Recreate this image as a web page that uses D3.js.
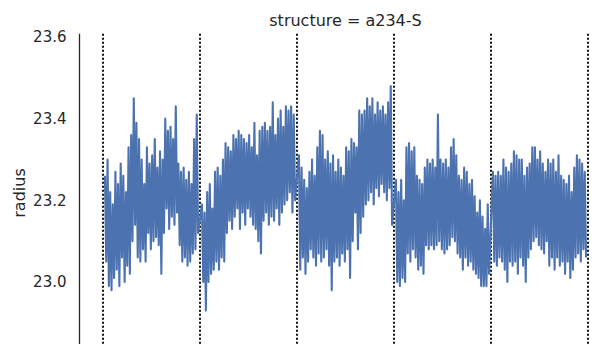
<!DOCTYPE html>
<html><head><meta charset="utf-8">
<script src="https://cdn.jsdelivr.net/npm/d3@7"></script>
<style>body{margin:0;background:#fff}svg{display:block}text{font-family:"DejaVu Sans",sans-serif;fill:#262626}</style>
</head><body><svg id="c" width="603" height="344"></svg>
<script>
const title = "structure = a234-S";
const yLabel = "radius";
const yTicks = [23.0, 23.2, 23.4, 23.6];
const boundaries = [0, 1, 2, 3, 4, 5];
const seg1 = [23.26,23.05,23.30,22.99,23.22,22.98,23.19,23.01,23.27,23.03,23.24,22.99,23.29,23.06,23.26,23.00,23.22,23.04,23.33,23.02,23.36,23.10,23.45,23.14,23.39,23.06,23.35,23.05,23.30,23.08,23.24,23.05,23.33,23.12,23.29,23.08,23.31,23.10,23.35,23.11,23.28,23.09,23.32,23.02,23.30,23.12,23.40,23.18,23.37,23.13,23.38,23.16,23.35,23.14,23.43,23.17,23.29,23.09,23.27,23.05,23.28,23.06,23.25,23.04,23.27,23.05,23.24,23.07,23.35,23.08,23.41,23.12];
const seg2 = [23.19,23.00,23.17,22.93,23.22,23.00,23.24,23.02,23.18,23.03,23.27,23.05,23.28,23.03,23.26,23.06,23.30,23.05,23.34,23.12,23.33,23.15,23.32,23.13,23.36,23.16,23.35,23.18,23.37,23.13,23.36,23.17,23.35,23.14,23.34,23.18,23.36,23.16,23.33,23.14,23.39,23.13,23.31,23.10,23.37,23.07,23.38,23.15,23.39,23.17,23.37,23.14,23.38,23.16,23.44,23.15,23.36,23.18,23.40,23.14,23.42,23.17,23.38,23.19,23.43,23.20,23.42,23.22,23.43,23.17,23.41,23.20];
const seg3 = [23.31,23.03,23.28,23.06,23.25,23.02,23.23,23.05,23.27,23.08,23.30,23.06,23.26,23.04,23.33,23.07,23.37,23.05,23.36,23.06,23.30,23.08,23.32,23.04,23.29,22.98,23.31,23.05,23.27,23.06,23.30,23.04,23.28,23.07,23.26,23.05,23.33,23.08,23.32,23.01,23.35,23.10,23.34,23.17,23.33,23.08,23.42,23.12,23.41,23.16,23.42,23.19,23.45,23.20,23.43,23.22,23.45,23.19,23.41,23.23,23.44,23.21,23.42,23.24,23.43,23.22,23.41,23.20,23.44,23.23,23.48,23.14];
const seg4 = [23.25,23.00,23.22,22.99,23.25,23.01,23.20,23.00,23.33,23.07,23.34,23.05,23.32,23.08,23.33,23.06,23.26,23.03,23.25,23.04,23.24,23.02,23.28,23.09,23.30,23.08,23.29,23.09,23.30,23.08,23.28,23.09,23.41,23.10,23.30,23.08,23.29,23.07,23.30,23.08,23.28,23.09,23.33,23.11,23.35,23.10,23.31,23.07,23.26,23.06,23.25,23.03,23.28,23.06,23.27,23.04,23.24,23.05,23.25,23.03,23.21,23.02,23.17,23.01,23.20,22.99,23.16,22.99,23.13,22.99,23.19,23.02];
const seg5 = [23.27,23.05,23.26,23.04,23.27,23.06,23.26,23.05,23.30,23.03,23.28,23.00,23.27,23.05,23.29,23.04,23.32,23.05,23.31,23.02,23.30,23.06,23.30,23.04,23.26,23.00,23.28,23.06,23.29,23.08,23.33,23.10,23.33,23.11,23.30,23.09,23.32,23.08,23.29,23.07,23.27,23.10,23.30,23.04,23.29,23.06,23.30,23.03,23.27,23.06,23.31,23.04,23.26,23.05,23.25,23.02,23.24,23.05,23.26,23.01,23.22,23.03,23.28,23.06,23.31,23.07,23.30,23.05,23.29,23.08,23.27,23.06];
const segments = [seg1, seg2, seg3, seg4, seg5];

const svg = d3.select("#c");
const x = d3.scaleLinear().domain([0, 5]).range([103, 588]);
const y = d3.scaleLinear().domain([23.0, 23.6]).range([282, 37]);
const yTop = 23.608;

const pts = [];
segments.forEach((s, k) => {
  s.forEach((v, j) => pts.push({t: k + 0.02 + j * 0.96 / (s.length - 1), v}));
});

svg.append("g").selectAll("line").data(boundaries).join("line")
  .attr("x1", d => x(d)).attr("x2", d => x(d))
  .attr("y1", y(yTop)).attr("y2", 344)
  .attr("stroke", "#111").attr("stroke-width", 2)
  .attr("stroke-dasharray", "2,2");

svg.append("path").datum(pts)
  .attr("fill", "none").attr("stroke", "#4c72b0").attr("stroke-width", 2.1)
  .attr("stroke-linejoin", "round")
  .attr("d", d3.line().x(d => x(d.t)).y(d => y(d.v)));

const ax = svg.append("g").attr("transform", "translate(79.5,0)")
  .call(d3.axisLeft(y).tickValues(yTicks).tickFormat(d3.format(".1f")).tickSize(0).tickPadding(13));
ax.select(".domain").remove();
ax.selectAll("text").attr("font-size", "15px").attr("font-family", "DejaVu Sans").attr("fill", "#262626");
svg.append("line").attr("x1", 79.5).attr("x2", 79.5).attr("y1", y(yTop)).attr("y2", 344)
  .attr("stroke", "#262626").attr("stroke-width", 1.3);

svg.append("text").attr("x", 345.5).attr("y", 26).attr("text-anchor", "middle")
  .attr("font-size", "16px").text(title);
svg.append("text").attr("transform", "translate(25,193) rotate(-90)").attr("text-anchor", "middle")
  .attr("font-size", "16px").text(yLabel);
</script></body></html>
